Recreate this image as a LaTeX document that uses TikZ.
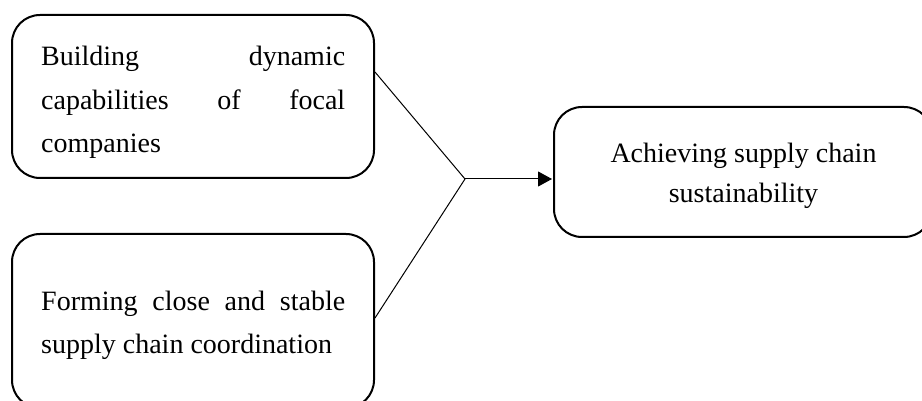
\documentclass[tikz,border=0pt]{standalone}
\usepackage{fontspec}
\setmainfont{Liberation Serif}
\usetikzlibrary{arrows.meta}
\begin{document}
\begin{tikzpicture}[x=1pt,y=-1pt,
  box/.style={draw,line width=2pt,rounded corners=28pt,inner sep=0pt},
  txt/.style={inner sep=0pt,font=\fontsize{28}{44}\selectfont},
  conn/.style={line width=1pt}]
\clip (0,0) rectangle (922,401);
\useasboundingbox (0,0) rectangle (922,401);
\node[box,minimum width=362pt,minimum height=163pt] (b1) at (193,96.5) {};
\node[box,minimum width=362pt,minimum height=174pt] (b2) at (193,321) {};
\node[box,minimum width=378pt,minimum height=130pt] (b3) at (743,172) {};
\node[txt,anchor=base west] (t1) at (41,65.5) {\makebox[304pt][s]{Building dynamic}};
\node[txt,anchor=base west] (t2) at (41,110) {\makebox[304pt][s]{capabilities of focal}};
\node[txt,anchor=base west] (t3) at (41,153) {companies};
\node[txt,anchor=base west] (t4) at (41,310) {\makebox[304pt][s]{Forming close and stable}};
\node[txt,anchor=base west] (t5) at (41,353) {supply chain coordination};
\node[txt,anchor=base] (t6) at (743.5,162.5) {Achieving supply chain};
\node[txt,anchor=base] (t7) at (743.5,202.5) {sustainability};
\coordinate (j) at (465,179);
\draw[conn] ([yshift=24.5pt]b1.east) -- (j);
\draw[conn] ([yshift=3pt]b2.east) -- (j);
\draw[conn,-{Triangle[length=14pt,width=15pt]}] (j) -- ([xshift=-1pt]b3.west |- j);
\end{tikzpicture}
\end{document}
